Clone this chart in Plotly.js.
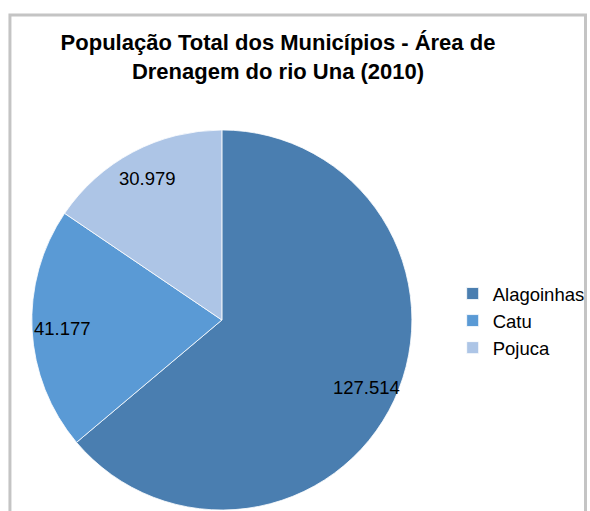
<!DOCTYPE html>
<html>
<head>
<meta charset="utf-8">
<script src="https://cdn.plot.ly/plotly-3.0.1.min.js"></script>
<style>html,body{margin:0;padding:0;background:#fff;}#chart{width:590px;height:511px;}</style>
</head>
<body>
<div id="chart"></div>
<script>
var municipios = ["Alagoinhas", "Catu", "Pojuca"];
var populacao = [127514, 41177, 30979];
var rotulos = ["127.514", "41.177", "30.979"];
var cores = ["#4A7EB0", "#5A9AD5", "#ADC5E6"];

var W = 590, H = 511;
var cx = 223, cy = 320, r = 191;
var FONT = "Liberation Sans, Arial, sans-serif";

var trace = {
  type: "pie",
  labels: municipios,
  values: populacao,
  textinfo: "none",
  hoverinfo: "label+value",
  sort: false,
  direction: "clockwise",
  rotation: 0,
  marker: { colors: cores, line: { color: "#ffffff", width: 0.8 } },
  domain: { x: [(cx - r) / W, (cx + r) / W], y: [(H - cy - r) / H, (H - cy + r) / H] }
};

// data labels placed at the slice mid-angle, ~0.84 of the radius (Excel-style)
var total = populacao.reduce(function (a, b) { return a + b; }, 0);
var annotations = [];
var acc = 0;
for (var i = 0; i < populacao.length; i++) {
  var mid = (acc + populacao[i] / 2) / total * 2 * Math.PI;
  acc += populacao[i];
  var d = r * 0.84;
  annotations.push({
    xref: "paper", yref: "paper",
    x: (cx + d * Math.sin(mid)) / W,
    y: 1 - (cy - d * Math.cos(mid)) / H,
    text: rotulos[i], showarrow: false,
    xanchor: "center", yanchor: "middle",
    font: { family: FONT, size: 18.5, color: "#000000" }
  });
}

var layout = {
  width: W, height: H,
  margin: { l: 0, r: 0, t: 0, b: 0 },
  paper_bgcolor: "#ffffff",
  title: {
    text: "<b>População Total dos Municípios - Área de<br>Drenagem do rio Una (2010)</b>",
    x: 278 / W, xanchor: "center",
    y: 1 - 50 / H, yanchor: "top",
    font: { family: FONT, size: 22, color: "#000000" }
  },
  showlegend: true,
  legend: {
    x: 455 / W, xanchor: "left",
    y: 1 - 321 / H, yanchor: "middle",
    font: { family: FONT, size: 18.5, color: "#000000" },
    bgcolor: "rgba(0,0,0,0)",
    traceorder: "normal"
  },
  annotations: annotations,
  shapes: [{
    type: "rect", xref: "paper", yref: "paper",
    x0: 10 / W, x1: 588.5 / W, y0: -0.05, y1: 1 - 15 / H,
    line: { color: "#c4c4c4", width: 3 }, fillcolor: "rgba(0,0,0,0)", layer: "above"
  }]
};

Plotly.newPlot("chart", [trace], layout, { staticPlot: true, displayModeBar: false });
</script>
</body>
</html>
